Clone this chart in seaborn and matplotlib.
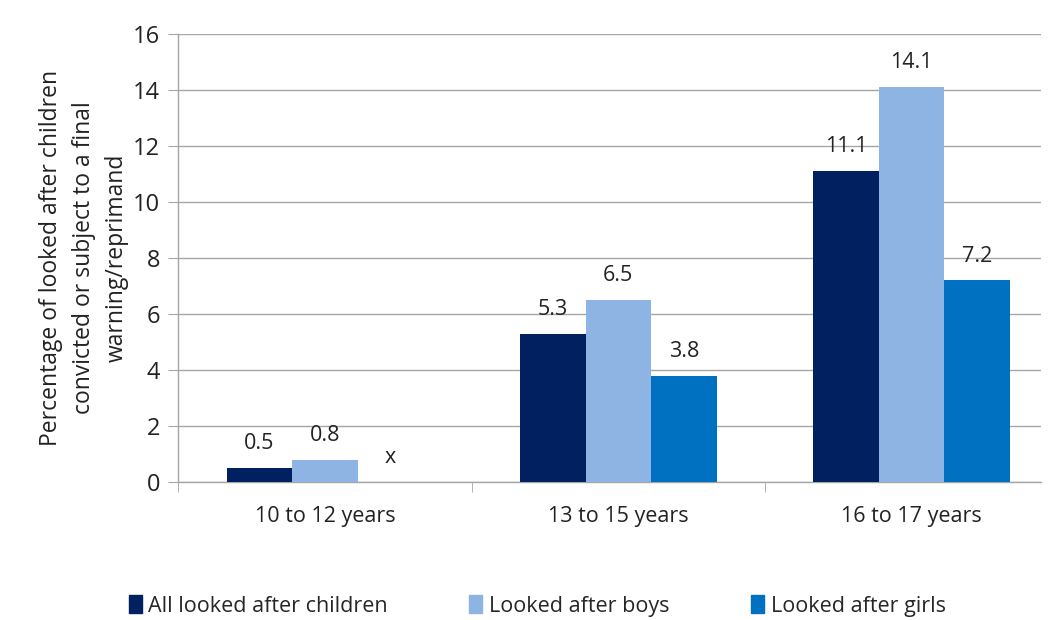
import numpy as np
import pandas as pd
import matplotlib
matplotlib.use("Agg")
import matplotlib.pyplot as plt
import seaborn as sns

# data
age_groups = ["10 to 12 years", "13 to 15 years", "16 to 17 years"]
series_names = ["All looked after children", "Looked after boys", "Looked after girls"]
all_children = [0.5, 5.3, 11.1]
boys = [0.8, 6.5, 14.1]
girls = [np.nan, 3.8, 7.2]  # 10 to 12 girls suppressed, shown as "x"
y_ticks = [0, 2, 4, 6, 8, 10, 12, 14, 16]

colours = ["#002060", "#8EB4E3", "#0070C0"]

df = pd.DataFrame({
    "age": age_groups * 3,
    "series": np.repeat(series_names, 3),
    "value": all_children + boys + girls,
})
df["height"] = df["value"].fillna(0)

sns.set_style("white")
plt.rcParams["font.family"] = ["Open Sans", "DejaVu Sans"]

fig = plt.figure(figsize=(10.49, 6.2), dpi=100)
ax = fig.add_axes([0.170, 0.2226, 0.822, 0.7224])

sns.barplot(data=df, x="age", y="height", hue="series", order=age_groups,
            hue_order=series_names, palette=colours, width=0.67, gap=0,
            saturation=1, errorbar=None, legend=False, ax=ax, zorder=3,
            linewidth=0)

# data labels, "x" where the value is suppressed
for cont, vals in zip(ax.containers, [all_children, boys, girls]):
    labels = ["x" if np.isnan(v) else f"{v:.1f}" for v in vals]
    ax.bar_label(cont, labels=labels, padding=10, fontsize=15.5, color="#222222")

ax.set_ylim(0, 16)
ax.set_yticks(y_ticks)
ax.set_xlim(-0.5, 2.44)
ax.yaxis.grid(True, color="#A6A6A6", linewidth=1, zorder=0)
ax.set_axisbelow(True)
for side in ["top", "right"]:
    ax.spines[side].set_visible(False)
for side in ["left", "bottom"]:
    ax.spines[side].set_color("#A6A6A6")
    ax.spines[side].set_linewidth(1)

ax.tick_params(axis="y", labelsize=17, length=7, direction="out", color="#A6A6A6",
               left=True, pad=6, labelcolor="#222222")
ax.tick_params(axis="x", which="major", length=0, labelsize=15.5, pad=17,
               labelcolor="#222222")
ax.set_xticks([-0.5, 0.5, 1.5], minor=True)
ax.tick_params(axis="x", which="minor", length=7, direction="out", color="#A6A6A6",
               bottom=True)

ax.set_xlabel("")
ax.set_ylabel("Percentage of looked after children\nconvicted or subject to a final\nwarning/reprimand",
              fontsize=16.5, linespacing=1.5, color="#222222", labelpad=3)

handles = [plt.Rectangle((0, 0), 1, 1, color=c) for c in colours]
fig.legend(handles, series_names, loc="lower center", bbox_to_anchor=(0.512, -0.026),
           ncol=3, frameon=False, fontsize=15.5, handlelength=0.6, handleheight=0.9,
           handletextpad=0.3, columnspacing=3.8)

fig.savefig("out.png", dpi=100)
